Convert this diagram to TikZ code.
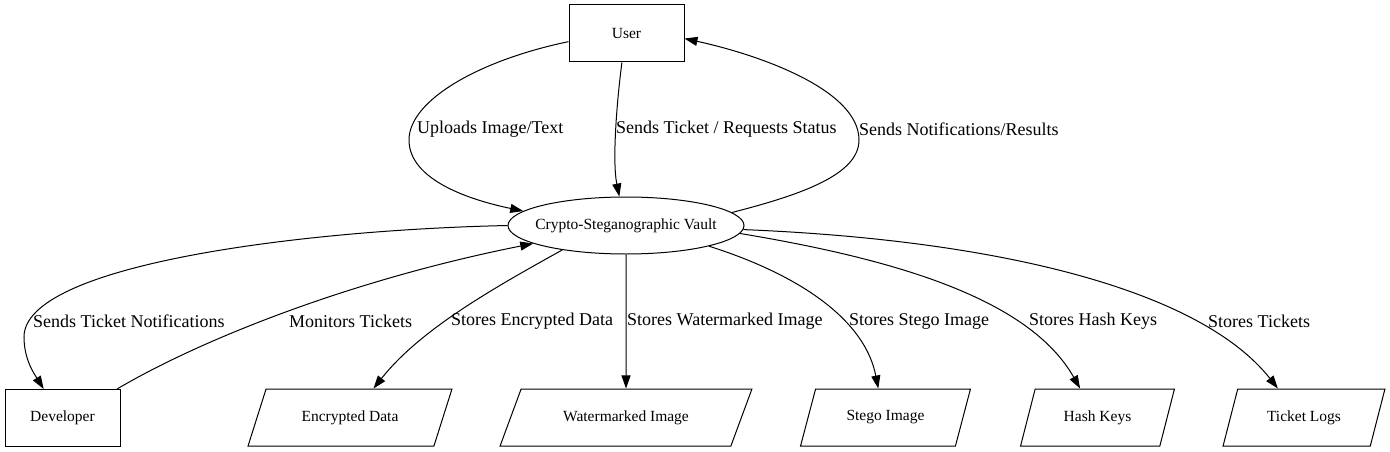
\documentclass[tikz,border=0pt]{standalone}
\usepackage{fontspec}
\setmainfont{Liberation Serif}
\usetikzlibrary{shapes.geometric,arrows.meta}
\tikzset{
  box/.style={draw, line width=1pt, rectangle, minimum width=115pt, minimum height=57pt, inner sep=0pt, font=\fontsize{15.5}{18}\selectfont},
  vaultnode/.style={draw, line width=1pt, ellipse, minimum width=236pt, minimum height=57pt, inner sep=-15pt, font=\fontsize{15.5}{18}\selectfont},
  datanode/.style={draw, line width=1pt, trapezium, trapezium stretches=true, minimum height=57pt, inner sep=0pt, font=\fontsize{15.5}{18}\selectfont},
  lbl/.style={anchor=west, inner sep=0pt, font=\fontsize{18}{21}\selectfont},
  edge/.style={line width=1pt, -{Triangle[length=13pt,width=9pt]}},
}
\begin{document}
\begin{tikzpicture}[x=1pt,y=-1pt]
\useasboundingbox[fill=white] (0,0) rectangle (1390,452);
% nodes
\node[box] (user) at (626.5,33.5) {User};
\node[vaultnode] (vault) at (626,225.5) {Crypto-Steganographic Vault};
\node[box] (dev) at (62.5,418) {Developer};
\node[datanode, minimum width=204pt, trapezium left angle=53.6, trapezium right angle=126.4] (enc) at (350,417.5) {Encrypted Data};
\node[datanode, minimum width=252pt, trapezium left angle=48.2, trapezium right angle=131.8] (wm) at (626,417.5) {Watermarked Image};
\node[datanode, minimum width=171pt, trapezium left angle=58.4, trapezium right angle=121.6] (stego) at (885.5,417.5) {Stego Image};
\node[datanode, minimum width=155pt, trapezium left angle=60.7, trapezium right angle=119.3] (hash) at (1097.5,417.5) {Hash Keys};
\node[datanode, minimum width=163pt, trapezium left angle=59.9, trapezium right angle=120.1] (tick) at (1304,417.5) {Ticket Logs};
% edges
\draw[edge] (user.188.5) .. controls (480,60) and (409,100) .. (409,140) .. controls (409,180) and (470,200) .. (vault.172);
\draw[edge] (user.261) .. controls (617,100) and (612,160) .. (vault.103.5);
\draw[edge] (vault.7.3) .. controls (800,195) and (859,175) .. (859,140) .. controls (859,90) and (760,55) .. (user.355.5);
\draw[edge] (vault.180.5) .. controls (300,230) and (24,265) .. (24,337) .. controls (24,360) and (35,375) .. (dev.123.9);
\draw[edge] (dev.28) .. controls (200,340) and (350,280) .. (vault.191);
\draw[edge] (vault.201.9) .. controls (490,290) and (420,330) .. (enc.51.1);
\draw[edge] (vault.270) -- (wm.north);
\draw[edge] (vault.346) .. controls (800,275) and (865,320) .. (stego.104.8);
\draw[edge] (vault.356.2) .. controls (900,260) and (1030,300) .. (hash.121.5);
\draw[edge] (vault.358.8) .. controls (1000,240) and (1200,290) .. (tick.132.4);
% labels
\node[lbl] (l1) at (417,129) {Uploads Image/Text};
\node[lbl] (l2) at (616,129) {Sends Ticket / Requests Status};
\node[lbl] (l3) at (859,129) {Sends Notifications/Results};
\node[lbl] (l4) at (33,321) {Sends Ticket Notifications};
\node[lbl] (l5) at (289,321) {Monitors Tickets};
\node[lbl] (l6) at (451,321) {Stores Encrypted Data};
\node[lbl] (l7) at (627,321) {Stores Watermarked Image};
\node[lbl] (l8) at (849,321) {Stores Stego Image};
\node[lbl] (l9) at (1029,321) {Stores Hash Keys};
\node[lbl] (l10) at (1208,321) {Stores Tickets};
\end{tikzpicture}
\end{document}
